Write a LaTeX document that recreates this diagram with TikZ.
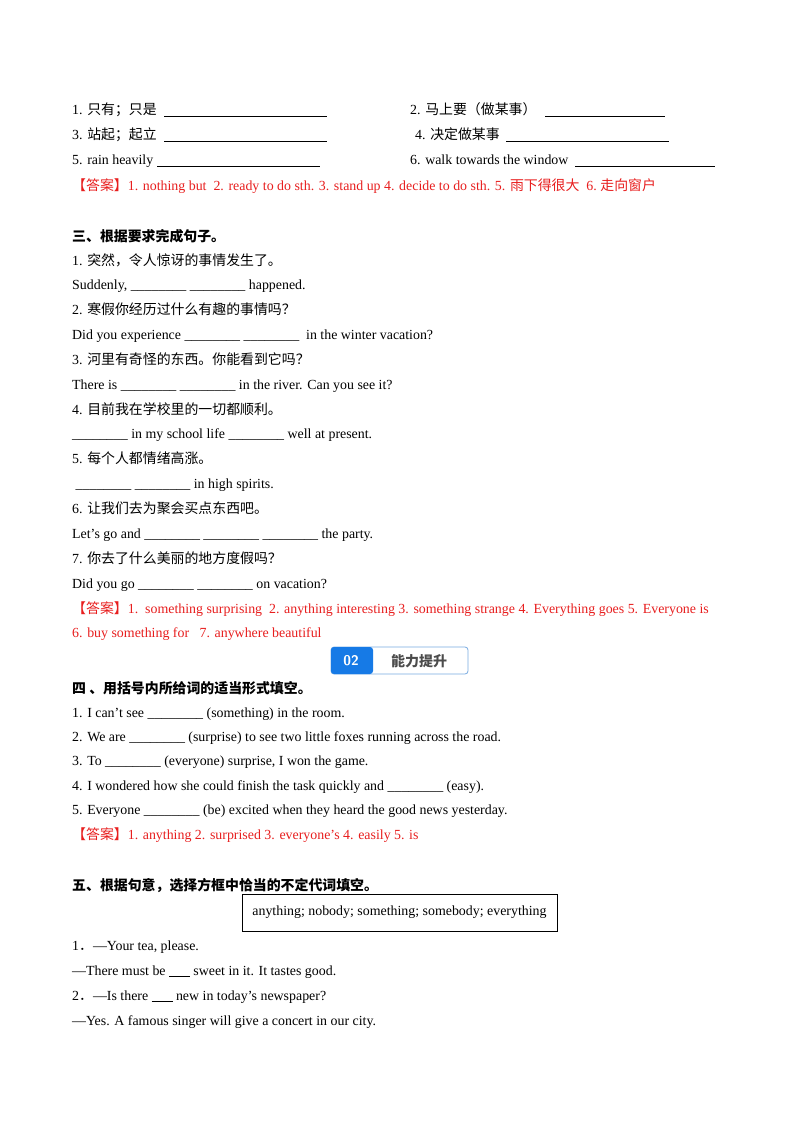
\documentclass[tikz,border=0pt]{standalone}
\usepackage{fontspec}
\setmainfont{Liberation Serif}
\newfontfamily\cjk{Noto Sans CJK SC}
\newcommand{\zh}[1]{{\cjk #1}}
\definecolor{ans}{RGB}{232,30,30}
\definecolor{badgeblue}{RGB}{22,122,230}
\definecolor{badgeline}{RGB}{120,170,225}
\begin{document}
\begin{tikzpicture}[x=1pt,y=-1pt,
  t/.style={anchor=base west,inner sep=0pt,font=\fontsize{13.9}{15}\selectfont},
  a/.style={t,text=ans},
  h/.style={t,font=\fontsize{13.9}{15}\selectfont\bfseries},
  blank/.style={line width=0.6pt}]
\useasboundingbox (0,0) rectangle (800,1132);
\fill[white] (0,0) rectangle (800,1132);
\begin{scope}[yshift=-4pt]
% section 1
\node[t] (l1) at (72,110) {1. \zh{只有；只是}};
\draw[blank] (164,112) -- (327,112);
\node[t] (l2) at (410,110) {2. \zh{马上要（做某事）}};
\draw[blank] (545,112) -- (665,112);
\node[t] (l3) at (72,135) {3. \zh{站起；起立}};
\draw[blank] (164,137) -- (327,137);
\node[t] (l4) at (415,135) {4. \zh{决定做某事}};
\draw[blank] (506,137) -- (669,137);
\node[t] (l5) at (72,160) {5. rain heavily};
\draw[blank] (157,162) -- (320,162);
\node[t] (l6) at (410,160) {6. walk towards the window};
\draw[blank] (575,162) -- (715,162);
\node[a] (a1) at (72,186) {\zh{【答案】}1. nothing but\ \ 2. ready to do sth. 3. stand up 4. decide to do sth. 5. \zh{雨下得很大}\ \ 6.\ \zh{走向窗户}};
% section 3
\node[h] (h3) at (72,237) {\zh{三、根据要求完成句子。}};
\node[t] at (72,261) {1. \zh{突然，令人惊讶的事情发生了。}};
\node[t] at (72,285) {Suddenly, \_\_\_\_\_\_\_\_ \_\_\_\_\_\_\_\_ happened.};
\node[t] at (72,310) {2. \zh{寒假你经历过什么有趣的事情吗？}};
\node[t] at (72,335) {Did you experience \_\_\_\_\_\_\_\_ \_\_\_\_\_\_\_\_\ \ in the winter vacation?};
\node[t] at (72,360) {3. \zh{河里有奇怪的东西。你能看到它吗？}};
\node[t] at (72,385) {There is \_\_\_\_\_\_\_\_ \_\_\_\_\_\_\_\_ in the river. Can you see it?};
\node[t] at (72,410) {4. \zh{目前我在学校里的一切都顺利。}};
\node[t] at (72,434) {\_\_\_\_\_\_\_\_ in my school life \_\_\_\_\_\_\_\_ well at present.};
\node[t] at (72,459) {5. \zh{每个人都情绪高涨。}};
\node[t] at (72,484) {\ \_\_\_\_\_\_\_\_ \_\_\_\_\_\_\_\_ in high spirits.};
\node[t] at (72,509) {6. \zh{让我们去为聚会买点东西吧。}};
\node[t] at (72,534) {Let’s go and \_\_\_\_\_\_\_\_ \_\_\_\_\_\_\_\_ \_\_\_\_\_\_\_\_ the party.};
\node[t] at (72,559) {7. \zh{你去了什么美丽的地方度假吗？}};
\node[t] at (72,584) {Did you go \_\_\_\_\_\_\_\_ \_\_\_\_\_\_\_\_ on vacation?};
\node[a] at (72,609) {\zh{【答案】}1.\ \ something surprising\ \ 2. anything interesting 3. something strange 4. Everything goes 5. Everyone is};
\node[a] at (72,633) {6. buy something for\ \ \ 7. anywhere beautiful};
% section 4
\node[h] at (72,689) {\zh{四\ 、用括号内所给词的适当形式填空。}};
\node[t] at (72,713) {1. I can’t see \_\_\_\_\_\_\_\_ (something) in the room.};
\node[t] at (72,737) {2. We are \_\_\_\_\_\_\_\_ (surprise) to see two little foxes running across the road.};
\node[t] at (72,761) {3. To \_\_\_\_\_\_\_\_ (everyone) surprise, I won the game.};
\node[t] at (72,786) {4. I wondered how she could finish the task quickly and \_\_\_\_\_\_\_\_ (easy).};
\node[t] at (72,810) {5. Everyone \_\_\_\_\_\_\_\_ (be) excited when they heard the good news yesterday.};
\node[a] at (72,835) {\zh{【答案】}1. anything 2. surprised 3. everyone’s 4. easily 5. is};
% section 5
\node[h] at (72,886) {\zh{五、根据句意，选择方框中恰当的不定代词填空。}};
\node[t] at (72,946) {1\zh{．}—Your tea, please.};
\node[t] at (72,971) {—There must be \underline{\ \ \ \ \ \ } sweet in it. It tastes good.};
\node[t] at (72,996) {2\zh{．}—Is there \underline{\ \ \ \ \ \ } new in today’s newspaper?};
\node[t] at (72,1021) {—Yes. A famous singer will give a concert in our city.};
\end{scope}
% badge
\draw[badgeline,fill=white,rounded corners=3pt,line width=0.8pt] (331,647) rectangle (468,674);
\fill[badgeblue,rounded corners=3pt] (331,647) rectangle (373,674);
\node[inner sep=0,text=white,font=\fontsize{14}{16}\selectfont\bfseries\sffamily] (b02) at (351,661) {02};
\node[inner sep=0,text=black!70,font=\fontsize{14}{16}\selectfont\cjk\bfseries] (bt) at (419,661) {能力提升};
% word box
\draw[line width=0.8pt] (242,894) rectangle (557,931);
\node[inner sep=0,font=\fontsize{13.9}{15}\selectfont] (box) at (399.5,912) {anything; nobody; something; somebody; everything};
\end{tikzpicture}
\end{document}
